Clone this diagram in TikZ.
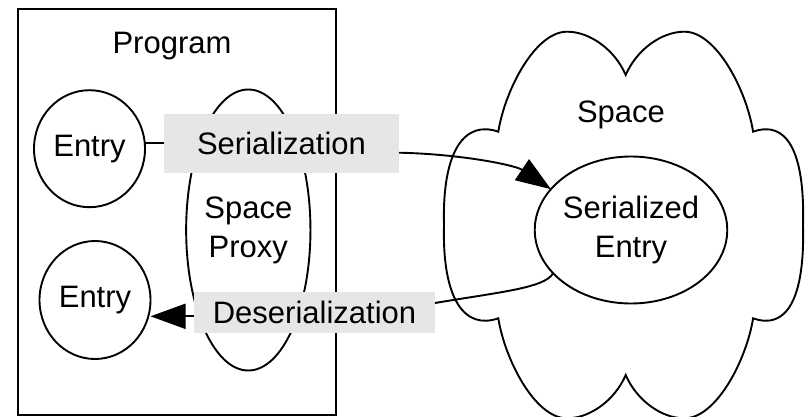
\documentclass[tikz,border=0pt]{standalone}
\usepackage{fontspec}
\setmainfont{Liberation Sans}
\usetikzlibrary{shapes.geometric,arrows.meta}
\definecolor{labelgray}{RGB}{230,230,230}
\begin{document}
\begin{tikzpicture}[x=1pt,y=-1pt,
  every node/.style={font=\fontsize{31}{39}\selectfont, inner sep=0pt, outer sep=0pt},
  outline/.style={draw=black, line width=1.9pt},
  oval/.style={ellipse, outline, align=center},
  labelbox/.style={fill=labelgray},
  flow/.style={line width=1.9pt},
  tip/.style={-{Triangle[length=35pt,width=25pt]}}]
\useasboundingbox (0,0) rectangle (805,417);

% program frame and its contents
\node[draw=black, line width=2.5pt, minimum width=318pt, minimum height=406pt, anchor=north west] (prog) at (18,9) {};
\node (progtitle) at (172,46) {Program};
\node[oval, minimum width=111pt, minimum height=117pt] (e1) at (89.5,148.7) {Entry};
\node[oval, minimum width=111pt, minimum height=118pt] (e2) at (95,300) {Entry};
\node[oval, minimum width=111pt, minimum height=281pt] (proxy) at (248.3,230) {Space\\Proxy};

% the space cloud
\draw[outline]
  (625.7,75) .. controls (636.4,50) and (661.4,31.5) .. (684.7,31.7)
  .. controls (716.4,32) and (746.4,90) .. (753.1,131.7)
  .. controls (786,120) and (805,150) .. (803,225)
  .. controls (805,300) and (786,330) .. (753.1,318.3)
  .. controls (746.4,360) and (716.4,418) .. (684.7,418.3)
  .. controls (661.4,418.5) and (636.4,400) .. (625.7,375)
  .. controls (615,400) and (590,418.5) .. (566.7,418.3)
  .. controls (535,418) and (505,360) .. (498.3,318.3)
  .. controls (465,330) and (442,300) .. (444,225)
  .. controls (442,150) and (465,120) .. (498.3,131.7)
  .. controls (505,90) and (535,32) .. (566.7,31.7)
  .. controls (590,31.5) and (615,50) .. (625.7,75) -- cycle;
\node (spacetitle) at (621,115) {Space};
\node[oval, minimum width=188pt, minimum height=147pt] (se) at (631,230) {Serialized\\Entry};

% transfer labels
\node[labelbox, minimum width=235pt, minimum height=58.7pt] (ser) at (281.5,143.3) {Serialization};
\node[labelbox, minimum width=241pt, minimum height=40.7pt] (dser) at (314.5,312.3) {Deserialization};

% connectors
\draw[flow] (ser.west) -- (ser.west -| e1.east);
\draw[flow, tip] ([yshift=-9.4pt]ser.east) .. controls (460,154) and (515,165) .. (se.153);
\draw[flow] (se.209) .. controls (545,288) and (500,292) .. ([yshift=9.3pt]dser.east);
\coordinate (dtail) at ([yshift=-4pt]dser.west);
\draw[flow, tip] (dtail) -- (dtail -| e2.east);
\end{tikzpicture}
\end{document}
